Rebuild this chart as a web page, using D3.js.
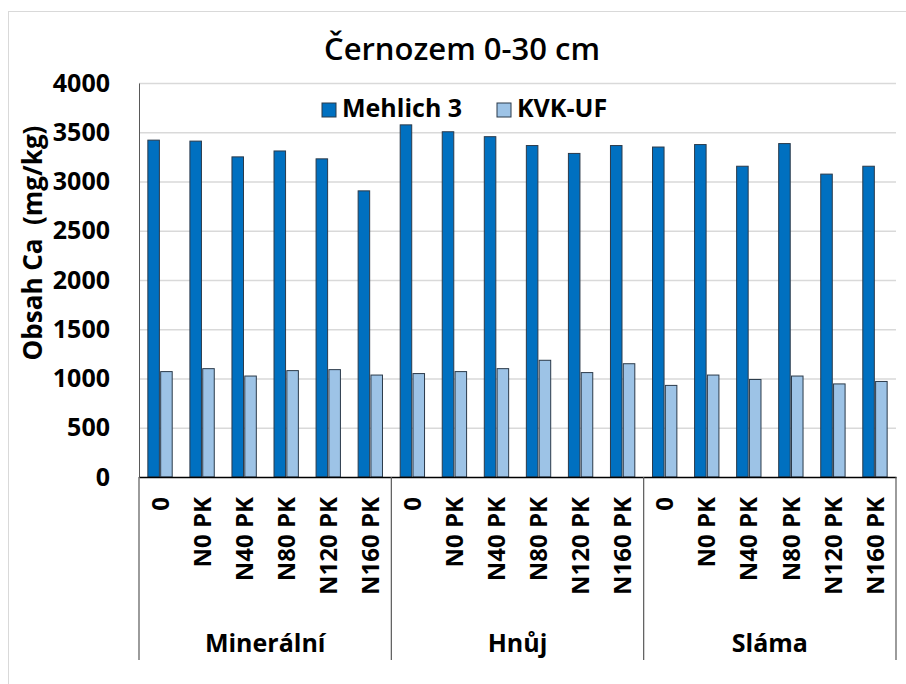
<!DOCTYPE html>
<html>
<head>
<meta charset="utf-8">
<script src="https://cdn.jsdelivr.net/npm/d3@7"></script>
<style>
  body { margin: 0; background: #fff; }
  text { font-family: "Open Sans", "Liberation Sans", sans-serif; fill: #000; }
</style>
</head>
<body>
<div id="chart"></div>
<script>
// chart data
var groups = ["Minerální", "Hnůj", "Sláma"];
var treatments = ["0", "N0 PK", "N40 PK", "N80 PK", "N120 PK", "N160 PK"];
var seriesNames = ["Mehlich 3", "KVK-UF"];
var mehlich = [3420, 3410, 3250, 3310, 3230, 2905, 3575, 3505, 3455, 3365, 3285, 3365, 3350, 3375, 3155, 3385, 3075, 3155];
var kvk = [1070, 1100, 1025, 1080, 1090, 1035, 1050, 1070, 1100, 1185, 1060, 1150, 930, 1035, 990, 1025, 945, 970];
var yTicks = [0, 500, 1000, 1500, 2000, 2500, 3000, 3500, 4000];
var colors = ["#0070c0", "#9dc3e6"];

var svgWidth = 906;
var svgHeight = 684;
var margin = { top: 83, right: 10, bottom: 207, left: 139 };
var chartWidth = 757;
var chartHeight = svgHeight - margin.top - margin.bottom;

// one row per category (group x treatment)
var rows = [];
groups.forEach(function (g, gi) {
  treatments.forEach(function (t, ti) {
    var i = gi * treatments.length + ti;
    rows.push({ id: i, group: g, label: t, values: [mehlich[i], kvk[i]] });
  });
});

var svg = d3.select("#chart").append("svg")
  .attr("width", svgWidth)
  .attr("height", svgHeight);

// light outer border of the chart area
svg.append("rect")
  .attr("x", 8.5).attr("y", 11.5)
  .attr("width", 920).attr("height", 700)
  .attr("fill", "none")
  .attr("stroke", "#d9d9d9");

var chartGroup = svg.append("g")
  .attr("transform", `translate(${margin.left}, ${margin.top})`);

var x0 = d3.scaleBand()
  .domain(rows.map(d => d.id))
  .range([0, chartWidth])
  .paddingInner(0.36)
  .paddingOuter(0.18);

var x1 = d3.scaleBand()
  .domain([0, 1])
  .range([0, x0.bandwidth()])
  .padding(0.1);

var y = d3.scaleLinear()
  .domain([0, 4000])
  .range([chartHeight, 0]);

// gridlines
chartGroup.append("g")
  .attr("class", "grid")
  .call(d3.axisLeft(y).tickValues(yTicks.slice(1)).tickSize(-chartWidth).tickFormat(""))
  .call(g => g.select(".domain").remove())
  .call(g => g.selectAll("line").attr("stroke", "#d9d9d9").attr("stroke-width", 1.3));

// y axis labels
chartGroup.append("g")
  .call(d3.axisLeft(y).tickValues(yTicks).tickSize(0).tickPadding(29).tickFormat(d3.format("d")))
  .call(g => g.select(".domain").attr("stroke", "#595959"))
  .call(g => g.selectAll("text")
    .attr("font-size", 25)
    .attr("font-weight", 700)
    .attr("fill", "#000"));

// bars
var cat = chartGroup.selectAll(".cat")
  .data(rows)
  .enter()
  .append("g")
  .attr("transform", d => `translate(${x0(d.id)}, 0)`);

cat.selectAll("rect")
  .data(d => d.values.map((v, i) => ({ s: i, v: v })))
  .enter()
  .append("rect")
  .attr("x", d => x1(d.s))
  .attr("y", d => y(d.v))
  .attr("width", x1.bandwidth())
  .attr("height", d => chartHeight - y(d.v))
  .attr("fill", d => colors[d.s])
  .attr("stroke", "#2b3a4a")
  .attr("stroke-width", 1);

// x axis with category labels
chartGroup.append("g")
  .attr("transform", `translate(0, ${chartHeight})`)
  .call(d3.axisBottom(x0).tickSize(0).tickFormat(i => rows[i].label))
  .call(g => g.select(".domain").attr("stroke", "#000").attr("stroke-width", 1.3))
  .call(g => g.selectAll("text")
    .attr("transform", "rotate(-90)")
    .attr("text-anchor", "end")
    .attr("x", -20)
    .attr("y", 0)
    .attr("dy", "0.36em")
    .attr("font-size", 24)
    .attr("font-weight", 700)
    .attr("fill", "#000"));

// group separators and group labels
var step = x0.step();
var nT = treatments.length;
var sepX = d3.range(groups.length + 1).map(k => k * nT * step);
chartGroup.selectAll(".sep")
  .data(sepX)
  .enter()
  .append("line")
  .attr("x1", d => d).attr("x2", d => d)
  .attr("y1", chartHeight).attr("y2", chartHeight + 183)
  .attr("stroke", "#595959")
  .attr("stroke-width", 1.2);

chartGroup.selectAll(".grouplabel")
  .data(groups)
  .enter()
  .append("text")
  .attr("x", (d, i) => (i + 0.5) * nT * step)
  .attr("y", chartHeight + 175)
  .attr("text-anchor", "middle")
  .attr("font-size", 25)
  .attr("font-weight", 700)
  .text(d => d);

// title
svg.append("text")
  .attr("x", 462)
  .attr("y", 60)
  .attr("text-anchor", "middle")
  .attr("font-size", 31)
  .attr("font-weight", 600)
  .text("Černozem 0-30 cm");

// y axis title
svg.append("text")
  .attr("transform", "translate(42, 243) rotate(-90)")
  .attr("text-anchor", "middle")
  .attr("font-size", 26)
  .attr("font-weight", 700)
  .attr("xml:space", "preserve")
  .style("white-space", "pre")
  .text("Obsah Ca  (mg/kg)");

// legend
var legend = svg.append("g").attr("transform", "translate(322, 103)");
var legendX = [0, 175];
seriesNames.forEach(function (name, i) {
  var item = legend.append("g").attr("transform", `translate(${legendX[i]}, 0)`);
  item.append("rect")
    .attr("width", 14).attr("height", 14)
    .attr("fill", colors[i])
    .attr("stroke", "#2b3a4a");
  item.append("text")
    .attr("x", 20)
    .attr("y", 14)
    .attr("font-size", 25)
    .attr("font-weight", 700)
    .text(name);
});
</script>
</body>
</html>
